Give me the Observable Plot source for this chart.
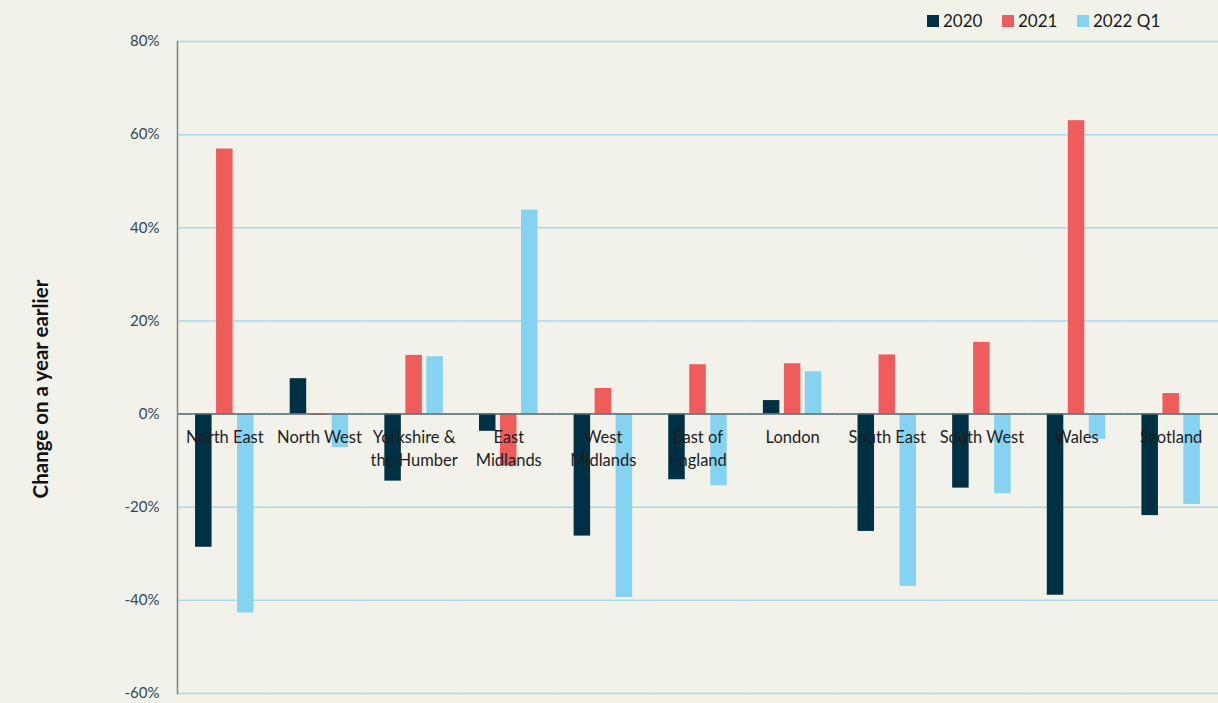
<!DOCTYPE html>
<html>
<head>
<meta charset="utf-8">
<script src="https://cdn.jsdelivr.net/npm/d3@7"></script>
<script src="https://cdn.jsdelivr.net/npm/@observablehq/plot@0.6"></script>
<style>
  html, body { margin: 0; padding: 0; background: #f2f2eb; }
  #wrap { position: relative; width: 1218px; height: 703px; overflow: hidden; font-family: Lato, "Open Sans", sans-serif; }
  #chart { position: absolute; left: 0; top: 0; }
  #legend { position: absolute; top: 10px; left: 927px; display: flex; font-size: 17px; color: #1a1a1a; white-space: nowrap; }
  #legend .item { display: flex; align-items: center; width: 75px; flex: none; }
  #legend .item:last-child { width: auto; }
  #legend .sw { width: 12px; height: 12px; margin-right: 4px; flex: none; }
  #ytitle { position: absolute; left: 40px; top: 389px; transform: translate(-50%, -50%) rotate(-90deg); white-space: nowrap; font-weight: bold; font-size: 20.5px; color: #111; }
</style>
</head>
<body>
<div id="wrap">
  <div id="chart"></div>
  <div id="legend"></div>
  <div id="ytitle">Change on a year earlier</div>
</div>
<script>
const regions = ["North East", "North West", "Yorkshire &\nthe Humber", "East\nMidlands", "West\nMidlands", "East of\nEngland", "London", "South East", "South West", "Wales", "Scotland"];
const series = ["2020", "2021", "2022 Q1"];
const colors = ["#003044", "#ef5c5c", "#85d3f0"];
const v2020 = [-28.6, 7.6, -14.4, -3.7, -26.2, -14.1, 2.9, -25.2, -15.9, -38.9, -21.8];
const v2021 = [56.9, -0.3, 12.6, -11.1, 5.5, 10.6, 10.8, 12.7, 15.4, 63.0, 4.4];
const v2022 = [-42.7, -7.2, 12.3, 43.8, -39.4, -15.4, 9.1, -37.0, -17.1, -5.4, -19.4];
const yTicks = [-60, -40, -20, 0, 20, 40, 60, 80];

const valuesBySeries = [v2020, v2021, v2022];
const data = [];
regions.forEach((r, i) => series.forEach((s, j) => data.push({region: r, series: s, value: valuesBySeries[j][i]})));

const chart = Plot.plot({
  width: 1218,
  height: 703,
  marginTop: 41,
  marginBottom: 10,
  marginLeft: 177,
  marginRight: 0,
  style: {background: "transparent", fontFamily: "Lato, 'Open Sans', sans-serif"},
  fx: {domain: regions, padding: 0, round: false, axis: null},
  x: {domain: series, paddingInner: 0.214, paddingOuter: 0.86, round: false, axis: null},
  y: {domain: [-60, 80], axis: null},
  color: {domain: series, range: colors},
  marks: [
    Plot.gridY(yTicks, {stroke: "#a6daee", strokeOpacity: 1, strokeWidth: 1.5}),
    Plot.barY(data, {fx: "region", x: "series", y: "value", fill: "series"}),
    Plot.ruleY([0], {stroke: "#5e6b6b", strokeWidth: 1.5}),
    Plot.frame({anchor: "left", facetAnchor: "left", stroke: "#808080", strokeWidth: 1.5}),
    Plot.axisY(yTicks, {tickSize: 0, tickPadding: 18, tickFormat: d => d + "%", fontSize: 15, color: "#2b4a5a", label: null}),
    Plot.text(regions, {fx: d => d, text: d => d, y: 0, dy: 12, lineAnchor: "top", lineHeight: 1.42, fontSize: 16.5, fill: "#1e1e1e"})
  ]
});
document.getElementById("chart").appendChild(chart);

const legend = document.getElementById("legend");
series.forEach((s, j) => {
  const it = document.createElement("div");
  it.className = "item";
  it.innerHTML = `<span class="sw" style="background:${colors[j]}"></span><span>${s}</span>`;
  legend.appendChild(it);
});
</script>
</body>
</html>
